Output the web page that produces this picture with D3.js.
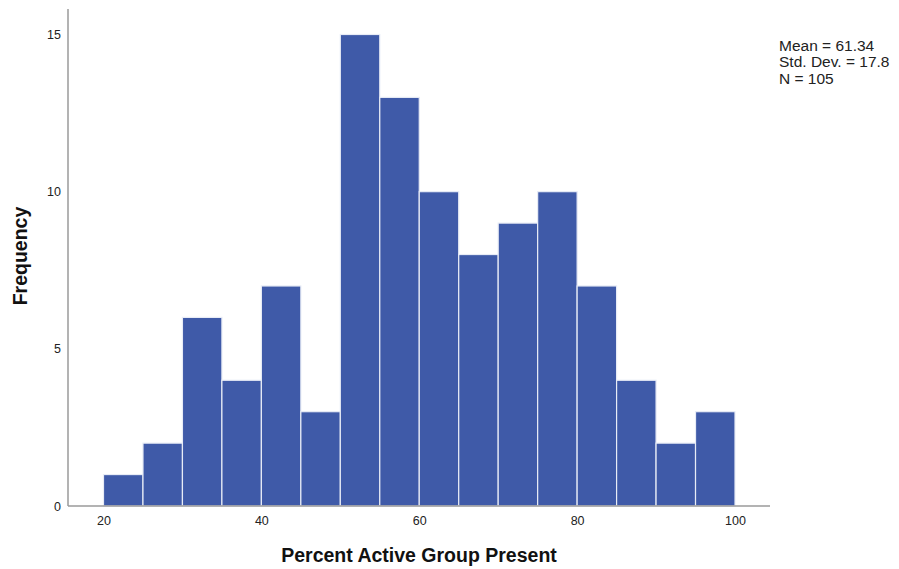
<!DOCTYPE html>
<html>
<head>
<meta charset="utf-8">
<script src="https://cdn.jsdelivr.net/npm/d3@7"></script>
<style>
  html, body { margin: 0; padding: 0; background: #fff; }
  svg { display: block; font-family: "Liberation Sans", Arial, sans-serif; }
</style>
</head>
<body>
<svg id="chart" width="899" height="569"></svg>
<script>
// Histogram bins (lower edge) and frequencies
const binStarts = [20, 25, 30, 35, 40, 45, 50, 55, 60, 65, 70, 75, 80, 85, 90, 95];
const binWidth = 5;
const counts = [1, 2, 6, 4, 7, 3, 15, 13, 10, 8, 9, 10, 7, 4, 2, 3];
const xTicks = [20, 40, 60, 80, 100];
const yTicks = [0, 5, 10, 15];
const statsLines = ["Mean = 61.34", "Std. Dev. = 17.8", "N = 105"];
const xTitle = "Percent Active Group Present";
const yTitle = "Frequency";

const svg = d3.select("#chart");
const axisColor = "#9a9a9a";
const barColor = "#3f5aa8";

// Plot frame
const frame = { left: 68, right: 770, top: 9, bottom: 506 };

const x = d3.scaleLinear().domain([20, 100]).range([103.5, 735]);
const y = d3.scaleLinear().domain([0, 15]).range([frame.bottom, 34.5]);

// Bars
svg.append("g").selectAll("rect")
  .data(binStarts.map((s, i) => ({ s, c: counts[i] })))
  .join("rect")
  .attr("x", d => x(d.s))
  .attr("width", d => x(d.s + binWidth) - x(d.s))
  .attr("y", d => y(d.c))
  .attr("height", d => y(0) - y(d.c))
  .attr("fill", barColor)
  .attr("stroke", "#e8ecf6")
  .attr("stroke-width", 1.2);

// Axis lines
svg.append("line")
  .attr("x1", frame.left).attr("x2", frame.left)
  .attr("y1", frame.top).attr("y2", frame.bottom)
  .attr("stroke", axisColor).attr("stroke-width", 1.5);
svg.append("line")
  .attr("x1", frame.left).attr("x2", frame.right)
  .attr("y1", frame.bottom).attr("y2", frame.bottom)
  .attr("stroke", axisColor).attr("stroke-width", 1.5);

// X axis labels
const xAxis = d3.axisBottom(x).tickValues(xTicks).tickSize(0).tickPadding(10);
const gx = svg.append("g").attr("transform", `translate(0,${frame.bottom})`).call(xAxis);
gx.select(".domain").remove();
gx.selectAll("text").attr("font-size", 12.5).attr("fill", "#222")
  .attr("font-family", "Liberation Sans, Arial, sans-serif");

// Y axis labels
const yAxis = d3.axisLeft(y).tickValues(yTicks).tickSize(0).tickPadding(7);
const gy = svg.append("g").attr("transform", `translate(${frame.left},0)`).call(yAxis);
gy.select(".domain").remove();
gy.selectAll("text").attr("font-size", 12.5).attr("fill", "#222")
  .attr("font-family", "Liberation Sans, Arial, sans-serif");

// Axis titles
svg.append("text")
  .attr("x", 419).attr("y", 562)
  .attr("text-anchor", "middle")
  .attr("font-size", 19.5).attr("font-weight", "bold").attr("fill", "#111")
  .text(xTitle);

svg.append("text")
  .attr("transform", "translate(27,256) rotate(-90)")
  .attr("text-anchor", "middle")
  .attr("font-size", 19.5).attr("font-weight", "bold").attr("fill", "#111")
  .text(yTitle);

// Summary statistics
svg.append("g").selectAll("text")
  .data(statsLines)
  .join("text")
  .attr("x", 779)
  .attr("y", (d, i) => 51 + i * 16.25)
  .attr("font-size", 15.5).attr("fill", "#222")
  .text(d => d);
</script>
</body>
</html>
